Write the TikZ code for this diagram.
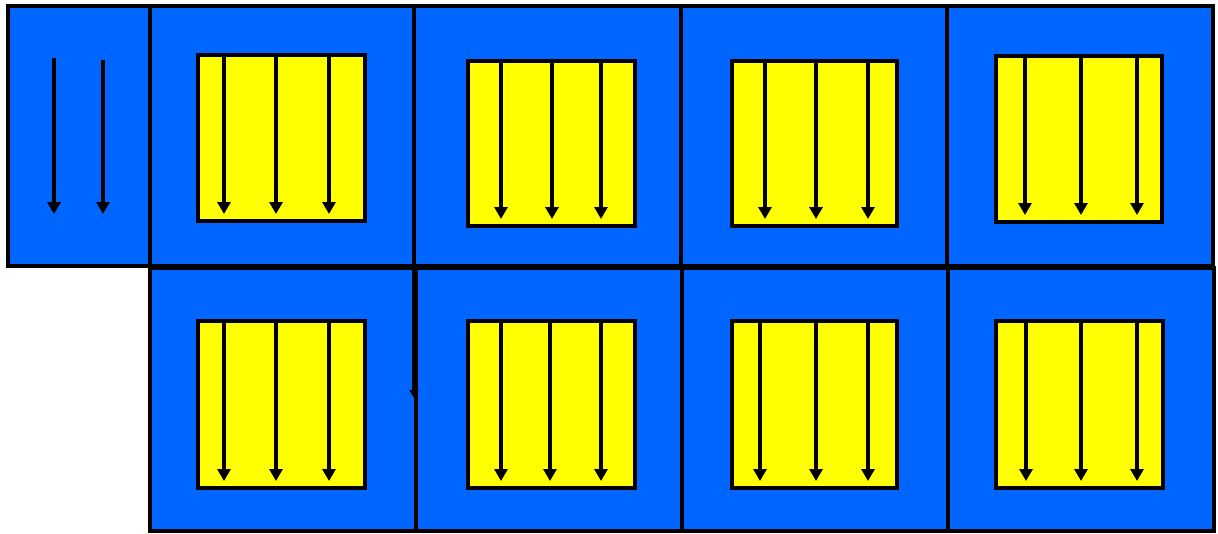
\documentclass[tikz,border=0pt]{standalone}
\usetikzlibrary{arrows.meta}
\definecolor{cellblue}{RGB}{0,102,255}
\definecolor{boxyellow}{RGB}{255,255,0}
\begin{document}
\begin{tikzpicture}[x=1pt,y=-1pt,
  cell/.style={fill=cellblue,draw=black,line width=4pt},
  ybox/.style={fill=boxyellow,draw=black,line width=4pt},
  flow/.style={draw=black,line width=3.5pt,-{Triangle[width=13pt,length=12pt]}},
  smallflow/.style={draw=black,line width=4pt,-{Triangle[width=9pt,length=8pt]}}]
\useasboundingbox (0,0) rectangle (1218,533);
% top row cells
\draw[cell] (8,6) rectangle (150,266);
\draw[cell] (150,6) rectangle (414,266);
\draw[cell] (414,6) rectangle (681,266);
\draw[cell] (681,6) rectangle (947,266);
\draw[cell] (947,6) rectangle (1213,266);
% bottom row cells
\draw[cell] (150,268) rectangle (416,531);
\draw[cell] (416,268) rectangle (682,531);
\draw[cell] (682,268) rectangle (948,531);
\draw[cell] (948,268) rectangle (1214,531);
% stray arrow on the divider
\coordinate (s1) at (414,268);
\coordinate (s2) at (414,398);
\draw[smallflow] (s1) -- (s2);
% first cell arrows
\coordinate (a1) at (54,58); \coordinate (b1) at (54,214);
\coordinate (a2) at (103,60); \coordinate (b2) at (103,214);
\draw[flow] (a1) -- (b1);
\draw[flow] (a2) -- (b2);
% yellow boxes with arrows: x0,y0,x1,y1,ax1,ax2,ax3
\foreach \i/\xa/\ya/\xb/\yb/\p/\q/\r in {
  1/198/55/365/221/224/276/329,
  2/468/61/635/226/501/552/601,
  3/732/61/897/226/765/816/868,
  4/996/56/1162/222/1025/1081/1137,
  5/198/321/365/488/224/276/329,
  6/468/321/635/488/501/550/601,
  7/732/321/897/488/760/816/868,
  8/996/321/1163/488/1026/1081/1137}{
  \draw[ybox] (\xa,\ya) rectangle (\xb,\yb);
  \foreach \ax in {\p,\q,\r}{
    \coordinate (t) at (\ax,\ya+2);
    \coordinate (h) at (\ax,\yb-7);
    \draw[flow] (t) -- (h);
  }
}
\end{tikzpicture}
\end{document}
